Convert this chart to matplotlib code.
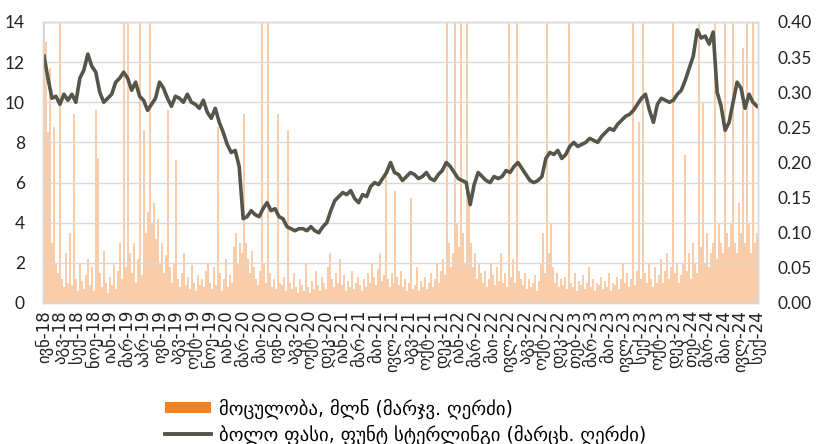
import numpy as np
import matplotlib
matplotlib.use("Agg")
import matplotlib.pyplot as plt
from matplotlib.patches import Patch
from matplotlib.lines import Line2D

plt.rcParams['font.family'] = ['Lato', 'DejaVu Sans']

# Closing price, GBP (left axis), sampled roughly weekly
price = [12.3, 11.2, 10.2, 10.3, 9.9, 10.4, 10.1, 10.4, 10.0, 11.2,
         11.6, 12.4, 11.8, 11.5, 10.5, 10.0, 10.2, 10.4, 11.0, 11.2,
         11.5, 11.2, 10.6, 11.0, 10.3, 10.1, 9.6, 9.9, 10.2, 11.0,
         10.7, 10.2, 9.8, 10.3, 10.2, 10.0, 10.4, 10.0, 9.9, 9.7,
         10.1, 9.5, 9.2, 9.7, 9.0, 8.5, 7.9, 7.5, 7.6, 6.8,
         4.2, 4.3, 4.6, 4.4, 4.3, 4.7, 5.0, 4.6, 4.7, 4.3,
         4.2, 3.8, 3.7, 3.6, 3.7, 3.7, 3.6, 3.8, 3.6, 3.5,
         3.8, 4.0, 4.6, 5.1, 5.3, 5.5, 5.4, 5.6, 5.2, 5.0,
         5.4, 5.3, 5.8, 6.0, 5.9, 6.2, 6.5, 7.0, 6.5, 6.4,
         6.1, 6.3, 6.5, 6.4, 6.2, 6.3, 6.5, 6.2, 6.1, 6.4,
         6.6, 7.0, 6.8, 6.5, 6.2, 6.1, 6.0, 4.9, 5.9, 6.5,
         6.3, 6.1, 6.0, 6.3, 6.2, 6.3, 6.6, 6.5, 6.8, 7.0,
         6.7, 6.4, 6.1, 6.0, 6.1, 6.3, 7.2, 7.5, 7.4, 7.6,
         7.2, 7.4, 7.8, 8.0, 7.8, 7.9, 8.0, 8.2, 8.1, 8.0,
         8.3, 8.5, 8.7, 8.6, 8.9, 9.1, 9.3, 9.4, 9.6, 9.9,
         10.2, 10.4, 9.6, 9.0, 9.9, 10.2, 10.1, 10.0, 10.1, 10.4,
         10.6, 11.1, 11.7, 12.3, 13.6, 13.2, 13.3, 12.9, 13.5, 10.5,
         9.8, 8.6, 9.0, 10.0, 11.0, 10.7, 9.7, 10.4, 10.0, 9.8]

# Traded volume, mln (right axis)
volume = [0.48, 0.371, 0.243, 0.334, 0.086, 0.251, 0.057, 0.043, 0.52, 0.034, 0.023, 0.071, 0.029, 0.100, 0.026, 0.269, 0.034, 0.017, 0.057, 0.031,
          0.020, 0.040, 0.063, 0.026, 0.051, 0.017, 0.274, 0.206, 0.043, 0.023, 0.074, 0.029, 0.014, 0.037, 0.026, 0.057, 0.020, 0.046, 0.086, 0.034,
          0.46, 0.051, 0.50, 0.071, 0.043, 0.086, 0.029, 0.063, 0.44, 0.040, 0.246, 0.100, 0.129, 0.47, 0.114, 0.143, 0.091, 0.120, 0.057, 0.086,
          0.043, 0.069, 0.274, 0.051, 0.029, 0.057, 0.203, 0.034, 0.023, 0.043, 0.071, 0.026, 0.037, 0.020, 0.054, 0.029, 0.017, 0.040, 0.026, 0.034,
          0.023, 0.046, 0.057, 0.029, 0.020, 0.051, 0.026, 0.251, 0.043, 0.017, 0.034, 0.063, 0.023, 0.040, 0.029, 0.080, 0.100, 0.057, 0.086, 0.071,
          0.269, 0.086, 0.063, 0.043, 0.074, 0.051, 0.034, 0.026, 0.046, 0.45, 0.057, 0.029, 0.49, 0.043, 0.023, 0.034, 0.020, 0.269, 0.029, 0.026,
          0.037, 0.017, 0.246, 0.029, 0.020, 0.043, 0.023, 0.014, 0.034, 0.026, 0.017, 0.057, 0.023, 0.014, 0.031, 0.020, 0.046, 0.026, 0.017, 0.037,
          0.029, 0.020, 0.051, 0.071, 0.034, 0.023, 0.043, 0.029, 0.063, 0.026, 0.040, 0.017, 0.031, 0.023, 0.046, 0.020, 0.029, 0.037, 0.026, 0.017,
          0.034, 0.023, 0.043, 0.029, 0.057, 0.037, 0.026, 0.049, 0.071, 0.031, 0.040, 0.190, 0.034, 0.023, 0.043, 0.029, 0.160, 0.037, 0.026, 0.046,
          0.023, 0.034, 0.017, 0.029, 0.150, 0.020, 0.026, 0.051, 0.017, 0.031, 0.023, 0.037, 0.020, 0.029, 0.043, 0.023, 0.034, 0.057, 0.029, 0.046,
          0.063, 0.040, 0.46, 0.086, 0.051, 0.071, 0.50, 0.114, 0.080, 0.44, 0.100, 0.057, 0.48, 0.143, 0.086, 0.051, 0.071, 0.034, 0.057, 0.043,
          0.029, 0.046, 0.023, 0.034, 0.057, 0.040, 0.026, 0.051, 0.031, 0.071, 0.029, 0.043, 0.023, 0.45, 0.037, 0.063, 0.029, 0.47, 0.046, 0.034,
          0.026, 0.043, 0.020, 0.034, 0.023, 0.029, 0.040, 0.017, 0.031, 0.057, 0.100, 0.043, 0.46, 0.071, 0.114, 0.051, 0.029, 0.043, 0.023, 0.034,
          0.026, 0.037, 0.020, 0.45, 0.029, 0.023, 0.043, 0.017, 0.031, 0.026, 0.040, 0.020, 0.029, 0.051, 0.023, 0.034, 0.017, 0.029, 0.026, 0.037,
          0.020, 0.031, 0.023, 0.043, 0.017, 0.029, 0.026, 0.037, 0.020, 0.034, 0.057, 0.029, 0.043, 0.023, 0.034, 0.46, 0.026, 0.046, 0.257, 0.034,
          0.45, 0.043, 0.029, 0.057, 0.034, 0.023, 0.051, 0.029, 0.040, 0.063, 0.029, 0.046, 0.071, 0.034, 0.051, 0.48, 0.043, 0.057, 0.029, 0.040,
          0.057, 0.211, 0.046, 0.071, 0.034, 0.086, 0.057, 0.043, 0.47, 0.080, 0.286, 0.057, 0.100, 0.051, 0.071, 0.086, 0.50, 0.063, 0.114, 0.086,
          0.071, 0.46, 0.100, 0.080, 0.114, 0.49, 0.086, 0.071, 0.143, 0.100, 0.363, 0.086, 0.45, 0.114, 0.071, 0.47, 0.086, 0.100]

tick_labels = ["ივნ-18", "აგვ-18", "სექ-18", "ნოე-18",
               "იან-19", "მარ-19", "აპრ-19", "ივნ-19", "აგვ-19", "ოქტ-19", "ნოე-19",
               "იან-20", "მარ-20", "მაი-20", "ივნ-20", "აგვ-20", "ოქტ-20", "დეკ-20",
               "იან-21", "მარ-21", "მაი-21", "ივლ-21", "აგვ-21", "ოქტ-21", "დეკ-21",
               "იან-22", "მარ-22", "მაი-22", "ივლ-22", "აგვ-22", "ოქტ-22", "დეკ-22",
               "თებ-23", "მარ-23", "მაი-23", "ივლ-23", "სექ-23", "ოქტ-23", "დეკ-23",
               "თებ-24", "მარ-24", "მაი-24", "ივლ-24", "სექ-24"]

legend_volume = "მოცულობა, მლნ (მარჯვ. ღერძი)"
legend_price = "ბოლო ფასი, ფუნტ სტერლინგი (მარცხ. ღერძი)"

ORANGE = "#F58220"
BAR = "#FACDAA"
LINE = "#55554A"
GRID = "#D9D9D9"

fig = plt.figure(figsize=(8.19, 4.44), dpi=100)
ax = fig.add_axes([0.0525, 0.3176, 0.8730, 0.6329])
ax2 = ax.twinx()

n = len(volume)
xv = np.arange(n)
xp = np.linspace(0, n - 1, len(price))

ax2.bar(xv, volume, width=1.0, color=BAR, linewidth=0, antialiased=False)
ax.plot(xp, price, color=LINE, linewidth=2.6, solid_joinstyle='round')

ax.set_zorder(ax2.get_zorder() + 1)
ax.patch.set_visible(False)

ax.set_xlim(-0.5, n - 0.5)
ax.set_ylim(0, 14)
ax.set_yticks(np.arange(0, 15, 2))
ax2.set_ylim(0, 0.40)
ax2.set_yticks(np.arange(0, 0.41, 0.05))
ax2.set_yticklabels([f"{v:.2f}" for v in np.arange(0, 0.41, 0.05)])

ax.grid(axis='y', color=GRID, linewidth=1.0)
ax.set_axisbelow(True)

ticks = np.linspace(0, n - 1, len(tick_labels))
ax.set_xticks(ticks)
ax.set_xticklabels(tick_labels, rotation=90, family=['DejaVu Sans'])

for a in (ax, ax2):
    a.tick_params(length=0, colors='#222222', labelsize=12.5)
    for s in a.spines.values():
        s.set_color(GRID)
        s.set_linewidth(1.0)
ax.tick_params(axis='x', pad=5, labelsize=12)
ax.tick_params(axis='y', pad=13)
ax2.tick_params(axis='y', pad=14)

handles = [Patch(facecolor=ORANGE, edgecolor='none'),
           Line2D([0], [0], color=LINE, linewidth=2.8)]
fig.legend(handles, [legend_volume, legend_price], loc='upper left',
           bbox_to_anchor=(0.201, 0.103), frameon=False,
           handlelength=2.5, handleheight=0.5, handletextpad=0.4,
           labelspacing=0.3, borderpad=0, borderaxespad=0,
           prop={'family': ['DejaVu Sans'], 'size': 13.5})

fig.savefig("out.png", dpi=100)
